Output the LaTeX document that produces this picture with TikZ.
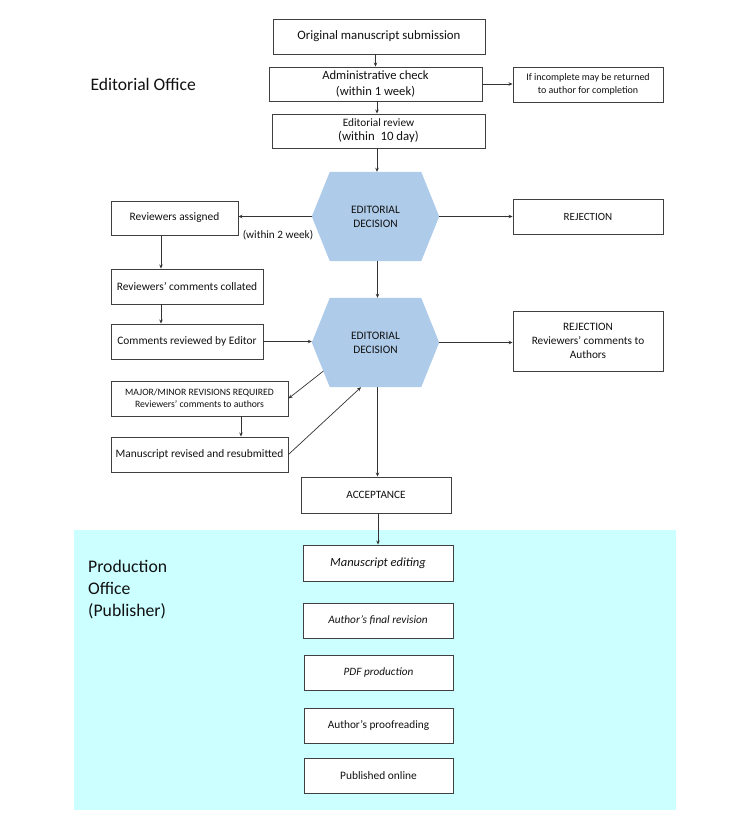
\documentclass[tikz,border=0pt]{standalone}
\usepackage{fontspec}
\setmainfont{Carlito}
\usetikzlibrary{arrows.meta,calc}
\pgfdeclarelayer{background}
\pgfsetlayers{background,main}
\definecolor{hexc}{HTML}{AECBEA}
\definecolor{cyanbg}{HTML}{CCFFFF}
\definecolor{boxline}{HTML}{404040}
\definecolor{txt}{HTML}{111111}
\tikzset{
  box/.style={draw=boxline, line width=0.9pt, fill=white, align=center, inner sep=0pt, text=txt},
  hexnode/.style={align=center, inner sep=0pt, minimum width=127pt, minimum height=89pt, text=txt},
  arr/.style={draw=black!80, line width=0.7pt, -{Stealth[length=4pt,width=3.5pt]}},
  fs/.style={font=\fontsize{#1pt}{\dimexpr #1pt*5/4\relax}\selectfont},
  fsi/.style={font=\fontsize{#1pt}{\dimexpr #1pt*5/4\relax}\selectfont\itshape}
}
\newcommand{\hexfill}[1]{%
  \begin{pgfonlayer}{background}
  \fill[hexc] (#1.west) -- ([xshift=18pt]#1.north west) -- ([xshift=-18pt]#1.north east) -- (#1.east) -- ([xshift=-18pt]#1.south east) -- ([xshift=18pt]#1.south west) -- cycle;
  \end{pgfonlayer}}
\begin{document}
\begin{tikzpicture}[x=1pt,y=-1pt]
\useasboundingbox (0,0) rectangle (750,828);
\fill[cyanbg] (74,530) rectangle (676,810);

\node[anchor=west, fs=17.6, text=txt] (edoff) at (87,84) {Editorial Office};
\node[anchor=north west, align=left, fs=17.7, text=txt, inner sep=0pt] (prodoff) at (88,560) {Production\\Office\\(Publisher)};

\node[box, minimum width=212pt, minimum height=35pt, fs=12.8] (orig) at (379,36.5) {Original manuscript submission};
\node[box, minimum width=213pt, minimum height=34pt, fs=12.6] (admin) at (375.5,84) {Administrative check\\(within 1 week)};
\node[box, minimum width=150pt, minimum height=35pt, fs=10] (incomp) at (588,84.5) {If incomplete may be returned\\to author for completion};
\node[box, minimum width=213pt, minimum height=34pt, fs=11.3] (edrev) at (378.5,131) {Editorial review\\{\fontsize{12.8pt}{14pt}\selectfont (within\ \ 10 day)}};

\node[hexnode, fs=11.4] (hex1) at (375.5,216.5) {EDITORIAL\\DECISION};
\hexfill{hex1}
\node[hexnode, fs=11.4] (hex2) at (375.5,342.5) {EDITORIAL\\DECISION};
\hexfill{hex2}

\node[box, minimum width=127pt, minimum height=34pt, fs=11.4] (assigned) at (174.5,218) {Reviewers assigned};
\node[fs=11.2, text=txt, inner sep=0pt] (within2) at (278,235) {(within 2 week)};
\node[box, minimum width=150pt, minimum height=35pt, fs=11] (rej1) at (588,216.5) {REJECTION};
\node[box, minimum width=152pt, minimum height=35pt, fs=11.4] (collated) at (187,286.5) {Reviewers’ comments collated};
\node[box, minimum width=152pt, minimum height=35pt, fs=11.4] (reviewed) at (187,341.5) {Comments reviewed by Editor};
\node[box, minimum width=150pt, minimum height=60pt, fs=11.3] (rej2) at (588,341) {REJECTION\\Reviewers’ comments to\\Authors};
\node[box, minimum width=177pt, minimum height=35pt, fs=9.7] (major) at (199.5,398.5) {MAJOR/MINOR REVISIONS REQUIRED\\Reviewers’ comments to authors};
\node[box, minimum width=177pt, minimum height=35pt, fs=11.4] (revised) at (199.5,454.5) {Manuscript revised and resubmitted};
\node[box, minimum width=150pt, minimum height=36pt, fs=11.2] (accept) at (376,495) {ACCEPTANCE};

\node[box, minimum width=150pt, minimum height=36pt, fsi=12.5] (editing) at (378,563) {Manuscript editing};
\node[box, minimum width=150pt, minimum height=35pt, fsi=11.3] (final) at (378,620.5) {Author’s final revision};
\node[box, minimum width=149pt, minimum height=35pt, fsi=11.2] (pdf) at (378.5,672.5) {PDF production};
\node[box, minimum width=149pt, minimum height=35pt, fs=11.3] (proof) at (378.5,725.5) {Author’s proofreading};
\node[box, minimum width=149pt, minimum height=35pt, fs=11.4] (pub) at (378.5,775.5) {Published online};

% connectors
\draw[arr] (orig.south -| hex1) -- (admin.north -| hex1);
\draw[arr] (admin.east) -- (incomp.west |- admin.east);
\draw[arr] ([xshift=1.5pt]admin.south -| hex1) -- ([xshift=1.5pt]edrev.north -| hex1);
\draw[arr] ([xshift=1.5pt]edrev.south -| hex1) -- ([xshift=1.5pt]hex1.north);
\draw[arr] (hex1.west) -- (assigned.east |- hex1.west);
\draw[arr] (hex1.east) -- (rej1.west |- hex1.east);
\draw[arr] ([xshift=2pt]hex1.south) -- ([xshift=2pt]hex2.north);
\draw[arr] ([xshift=-13.5pt]assigned.south) -- ([xshift=-13.5pt]assigned.south |- collated.north);
\draw[arr] ([xshift=-26pt]collated.south) -- ([xshift=-26pt]collated.south |- reviewed.north);
\draw[arr] (reviewed.east) -- (hex2.west |- reviewed.east);
\draw[arr] (hex2.east) -- (rej2.west |- hex2.east);
\coordinate (hexll) at ($(hex2.west)!0.64!([xshift=18pt]hex2.south west)$);
\draw[arr] (hexll) -- (major.east);
\draw[arr] ([xshift=41.5pt]major.south) -- ([xshift=41.5pt]major.south |- revised.north);
\draw[arr] (revised.east) -- ([xshift=-14.5pt]hex2.south);
\draw[arr] ([xshift=2pt]hex2.south) -- ([xshift=2pt]hex2.south |- accept.north);
\draw[arr] ([xshift=2pt]accept.south) -- ([xshift=2pt]accept.south |- editing.north);
\end{tikzpicture}
\end{document}
